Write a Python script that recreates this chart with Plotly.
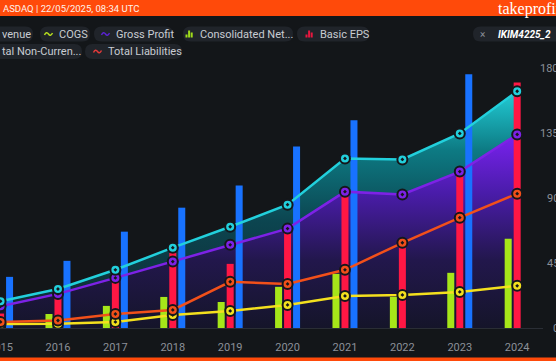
import plotly.graph_objects as go

# ---------------- data ----------------
years = [2015, 2016, 2017, 2018, 2019, 2020, 2021, 2022, 2023, 2024]
revenue = [35.4, 46.5, 66.7, 83.3, 98.6, 125.7, 143.8, None, 175.7, None]          # blue bars
net_income = [8.0, 9.7, 15.3, 21.5, 18.0, 28.5, 37.5, 21.5, 38.2, 61.8]            # green bars
basic_eps = [10.0, 23.0, 33.0, 52.0, 44.4, 67.0, 93.0, 58.0, 107.0, 170.0]         # red bars
non_current = [18.5, 27.0, 40.3, 55.6, 70.1, 85.4, 117.4, 116.7, 134.7, 163.9]     # cyan line
gross_profit = [15.0, 23.6, 34.7, 46.0, 57.6, 68.8, 94.4, 92.4, 108.3, 134.0]      # purple line
liabilities = [4.2, 5.2, 9.7, 12.5, 32.0, 30.5, 40.3, 59.0, 76.4, 93.0]            # orange line
cogs = [2.8, 3.0, 4.2, 9.0, 11.8, 16.0, 22.2, 22.9, 25.0, 29.2]                    # yellow line
y_ticks = [0, 45, 90, 135, 180]
y_tick_labels = ["0", "45", "90", "135", "180"]
header_text = "ASDAQ | 22/05/2025, 08:34 UTC"
brand_text = "takeprofit"
tag_text = "IKIM4225_2"

# ---------------- geometry / style ----------------
W, H = 556, 361
ML, MR, MT, MB = 0, 13, 40, 33
PW, PH = W - ML - MR, H - MT - MB
BG = "#131619"
ORANGE = "#ff4a0a"
PILL = "#20242a"
TXT = "#c8ccd2"
AX = "#8b9098"

def fx(px):
    return (px - ML) / PW

def fy(py):
    return (H - MB - py) / PH

X_RANGE = [2014.99, 2014.99 + PW / 57.4]
Y_RANGE = [0, PH / (260 / 180)]

fig = go.Figure()

# filled areas (bottom layer, x/y)
fig.add_trace(go.Scatter(
    x=years, y=gross_profit, mode="lines", line=dict(width=0),
    fill="tozeroy",
    fillgradient=dict(type="vertical", start=0, stop=134,
                      colorscale=[[0, "#15152a"], [0.35, "#22174c"], [0.7, "#4a1caa"], [1, "#7a22f0"]]),
    hoverinfo="skip", showlegend=False, xaxis="x", yaxis="y"))
fig.add_trace(go.Scatter(
    x=years, y=non_current, mode="lines", line=dict(width=0),
    fill="tonexty",
    fillgradient=dict(type="vertical", start=0, stop=164,
                      colorscale=[[0, "#0f262d"], [0.45, "#0c4550"], [0.75, "#0d7a83"], [1, "#22cdd6"]]),
    hoverinfo="skip", showlegend=False, xaxis="x", yaxis="y"))

# bars (overlay subplot, above fills)
for name, vals, col in [("Consolidated Net Income", net_income, "#a6e619"),
                        ("Basic EPS", basic_eps, "#ff1744"),
                        ("Revenue", revenue, "#1872ff")]:
    fig.add_trace(go.Bar(x=years, y=vals, name=name, marker=dict(color=col, line=dict(width=0)),
                         showlegend=False, hoverinfo="skip", xaxis="x2", yaxis="y2"))

# lines with markers
for name, vals, col in [("COGS", cogs, "#f4e01e"),
                        ("Total Liabilities", liabilities, "#f2501a"),
                        ("Gross Profit", gross_profit, "#7d22e6"),
                        ("Total Non-Current Assets", non_current, "#22d0dc")]:
    fig.add_trace(go.Scatter(
        x=years, y=vals, name=name, mode="lines+markers",
        line=dict(color=col, width=2.5),
        marker=dict(symbol="circle-dot", size=10, color=col, line=dict(color="#15171b", width=2)),
        cliponaxis=False, showlegend=False, hoverinfo="skip", xaxis="x2", yaxis="y2"))

shapes = []
annotations = []

# header bar and bottom strip
shapes.append(dict(type="rect", xref="paper", yref="paper", x0=fx(0), x1=fx(W), y0=fy(16), y1=fy(0),
                   fillcolor=ORANGE, line=dict(width=0), layer="above"))
shapes.append(dict(type="rect", xref="paper", yref="paper", x0=fx(0), x1=fx(W), y0=fy(H), y1=fy(357.5),
                   fillcolor=ORANGE, line=dict(width=0), layer="above"))
annotations.append(dict(xref="paper", yref="paper", x=fx(1), y=fy(8.5), xanchor="left", yanchor="middle",
                        text=header_text, showarrow=False,
                        font=dict(family="Roboto", size=9.5, color="#fff2ea")))
annotations.append(dict(xref="paper", yref="paper", x=fx(496), y=fy(8.5), xanchor="left", yanchor="middle",
                        text=brand_text, showarrow=False,
                        font=dict(family="Liberation Serif", size=16, color="#ffffff")))


def pill(x0, x1, y0, y1, r=7.5):
    p = (f"M {fx(x0 + r)},{fy(y0)} L {fx(x1 - r)},{fy(y0)} Q {fx(x1)},{fy(y0)} {fx(x1)},{fy(y0 + r)} "
         f"L {fx(x1)},{fy(y1 - r)} Q {fx(x1)},{fy(y1)} {fx(x1 - r)},{fy(y1)} "
         f"L {fx(x0 + r)},{fy(y1)} Q {fx(x0)},{fy(y1)} {fx(x0)},{fy(y1 - r)} "
         f"L {fx(x0)},{fy(y0 + r)} Q {fx(x0)},{fy(y0)} {fx(x0 + r)},{fy(y0)} Z")
    return dict(type="path", xref="paper", yref="paper", path=p, fillcolor=PILL,
                line=dict(width=0), layer="above")


def wave(x0, yc, col):
    w = 8
    p = (f"M {fx(x0)},{fy(yc + 1)} Q {fx(x0 + w * 0.25)},{fy(yc - 3)} {fx(x0 + w * 0.5)},{fy(yc)} "
         f"Q {fx(x0 + w * 0.75)},{fy(yc + 3)} {fx(x0 + w)},{fy(yc - 1)}")
    return dict(type="path", xref="paper", yref="paper", path=p, line=dict(color=col, width=1.5),
                layer="above")


def bars_icon(x0, yc, col):
    out = []
    for i, h in enumerate([3, 7, 5]):
        bx = x0 + i * 2.6
        out.append(dict(type="rect", xref="paper", yref="paper", x0=fx(bx), x1=fx(bx + 2),
                        y0=fy(yc + 3.5), y1=fy(yc + 3.5 - h), fillcolor=col, line=dict(width=0),
                        layer="above"))
    return out


R1, R2 = 34, 51.5
legend_items = [
    (-10, 33, R1, None, None, 0, "venue"),
    (40, 90, R1, "wave", "#b5dc1e", 57, "COGS"),
    (94, 173, R1, "wave", "#5a22d0", 114, "Gross Profit"),
    (183, 293, R1, "bars", "#9fdc1a", 198, "Consolidated Net..."),
    (297, 369, R1, "bars", "#e8173f", 318, "Basic EPS"),
    (-10, 82, R2, None, None, 0, "tal Non-Curren..."),
    (85, 182, R2, "wave", "#e23a3a", 106, "Total Liabilities"),
]
for x0, x1, yc, icon, col, tx, label in legend_items:
    shapes.append(pill(x0, x1, yc - 7.5, yc + 7.5))
    if icon == "wave":
        shapes.append(wave(tx - 12.5, yc, col))
    elif icon == "bars":
        shapes.extend(bars_icon(tx - 12.5, yc, col))
    annotations.append(dict(xref="paper", yref="paper", x=fx(tx), y=fy(yc), xanchor="left", yanchor="middle",
                            text=label, showarrow=False, font=dict(family="Roboto", size=11, color=TXT)))

# right tag
shapes.append(pill(473, 575, R1 - 7.5, R1 + 7.5))
annotations.append(dict(xref="paper", yref="paper", x=fx(482), y=fy(R1), xanchor="center", yanchor="middle",
                        text="×", showarrow=False, font=dict(family="Roboto", size=10, color="#8a8f97")))
annotations.append(dict(xref="paper", yref="paper", x=fx(496), y=fy(R1), xanchor="left", yanchor="middle",
                        text=f"<b><i>{tag_text}</i></b>", showarrow=False,
                        font=dict(family="Roboto", size=10, color="#ffffff")))

# right-aligned y tick labels
for v, t in zip(y_ticks, y_tick_labels):
    annotations.append(dict(xref="paper", yref="y", x=fx(561), y=v, xanchor="right", yanchor="middle",
                            text=t, showarrow=False, font=dict(family="Roboto", size=11, color=AX)))

fig.update_layout(
    width=W, height=H,
    margin=dict(l=ML, r=MR, t=MT, b=MB, autoexpand=False),
    paper_bgcolor=BG, plot_bgcolor=BG,
    barmode="group", bargap=0.53, bargroupgap=0.22,
    showlegend=False, hovermode=False,
    shapes=shapes, annotations=annotations,
    xaxis=dict(range=X_RANGE, tickvals=years, ticktext=[str(y) for y in years], automargin=False,
               showgrid=False, zeroline=False, showline=True, linecolor="#2a2e35", linewidth=1,
               ticks="outside", ticklen=9, tickcolor="rgba(0,0,0,0)", ticklabeloverflow="allow",
               tickfont=dict(family="Roboto", size=11, color=AX)),
    yaxis=dict(range=Y_RANGE, showgrid=False, zeroline=False, showticklabels=False, showline=False,
               automargin=False),
    xaxis2=dict(range=X_RANGE, overlaying="x", visible=False, automargin=False),
    yaxis2=dict(range=Y_RANGE, overlaying="y", visible=False, automargin=False),
)

fig.write_html(
    "out.html",
    config={"displayModeBar": False},
    post_script="document.body.style.margin='0';document.body.style.padding='0';"
                "document.body.style.overflow='hidden';document.body.style.background='#131619';",
)
